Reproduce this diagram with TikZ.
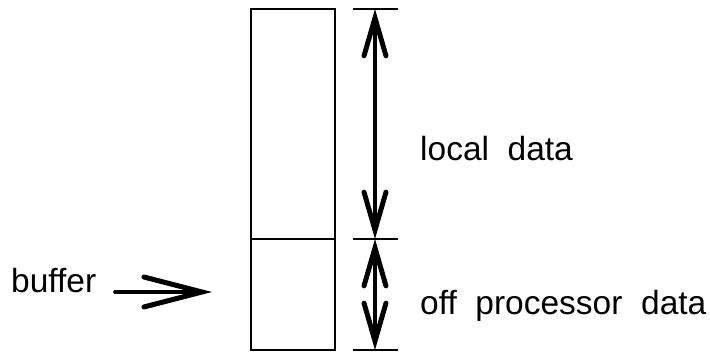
\documentclass[tikz,border=0pt]{standalone}
\usepackage{fontspec}
\setmainfont{Liberation Sans}
\usetikzlibrary{arrows.meta}
\begin{document}
\begin{tikzpicture}[x=1pt,y=1pt,
  box/.style={draw=black,line width=2pt},
  tick/.style={draw=black,line width=2pt},
  barb/.style={Straight Barb[length=38pt,width=22pt,line width=0pt 1.5,line cap=round]},
  dim/.style={line width=3.3pt,line cap=round,{Straight Barb[length=38pt,width=22pt,line width=0pt 1.5,line cap=round]}-{Straight Barb[length=38pt,width=22pt,line width=0pt 1.5,line cap=round]}},
  pointer/.style={line width=3.6pt,line cap=round,-{Straight Barb[length=58pt,width=30pt,line width=0pt 1.4,line cap=round]}},
  lbl/.style={anchor=base west,inner sep=0pt,font=\fontsize{33.5}{40}\selectfont}]
\useasboundingbox (0,0) rectangle (710,352);
% column
\coordinate (rtl) at (251,343);
\coordinate (rbr) at (335,2);
\coordinate (dl) at (251,113);
\coordinate (dr) at (335,113);
\draw[box] (rtl) rectangle (rbr);
\draw[box] (dl) -- (dr);
% ticks
\coordinate (t1a) at (353,343); \coordinate (t1b) at (398,343);
\coordinate (t2a) at (353,113); \coordinate (t2b) at (398,113);
\coordinate (t3a) at (353,2);   \coordinate (t3b) at (398,2);
\draw[tick] (t1a) -- (t1b);
\draw[tick] (t2a) -- (t2b);
\draw[tick] (t3a) -- (t3b);
% dimension arrows
\coordinate (top) at (375,343);
\coordinate (mid) at (375,113);
\coordinate (bot) at (375,2);
\draw[dim] (mid) -- (top);
\draw[dim] (bot) -- (mid);
% labels
\node[lbl] (local) at (420,191) {local\ \ data};
\node[lbl] (off) at (420,37) {off\ \ processor\ \ data};
\node[lbl] (buf) at (11,59) {buffer};
\coordinate (bs) at (115,60);
\coordinate (be) at (212,60);
\draw[pointer] (bs) -- (be);
\end{tikzpicture}
\end{document}
